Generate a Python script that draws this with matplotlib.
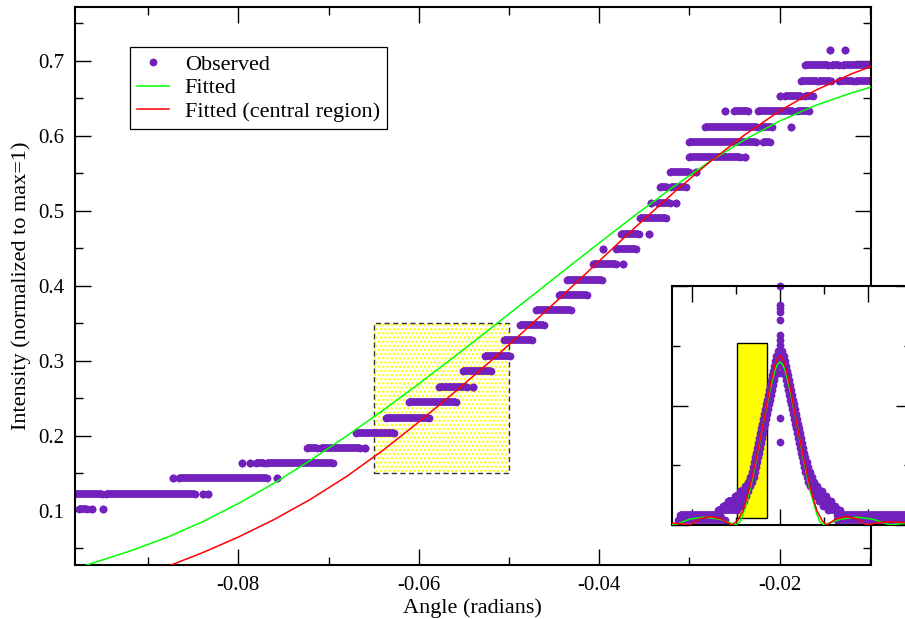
"""Observed vs fitted edge intensity with a full-pattern inset.

Main panel: quantised observed intensities (runs of overlapping points)
on the rising flank, plus the full fit (green) and the central-region
fit (red). Inset: the whole diffraction peak; the yellow bar marks the
part shown in the main panel.
"""
import matplotlib
matplotlib.use("Agg")
import matplotlib.pyplot as plt
from matplotlib.lines import Line2D
from matplotlib.patches import Rectangle
from matplotlib.ticker import MultipleLocator, NullFormatter

PURPLE = "#7221bc"
GREEN = "#00ff00"
RED = "#ff0000"
YELLOW = "#ffff00"

# ---- main panel: observed runs (intensity level, first angle, last angle)
OBS_Y = [
    0.102, 0.102, 0.102,
    0.122, 0.122, 0.122, 0.122,
    0.143, 0.143, 0.143,
    0.163, 0.163, 0.163, 0.163,
    0.184, 0.184, 0.184,
    0.204, 0.224, 0.245,
    0.265, 0.265,
    0.286, 0.306, 0.327, 0.347, 0.367, 0.388, 0.408,
    0.429, 0.429,
    0.449, 0.449,
    0.469, 0.469,
    0.490,
    0.510, 0.510, 0.510,
    0.531, 0.531,
    0.551, 0.551,
    0.571, 0.571,
    0.592, 0.592,
    0.612, 0.612, 0.612,
    0.633, 0.633, 0.633, 0.633,
    0.653, 0.653, 0.653,
    0.673, 0.673, 0.673, 0.673,
    0.694, 0.694, 0.694,
    0.714, 0.714,
]
OBS_X0 = [
    -0.0977, -0.0962, -0.0950,
    -0.0995, -0.0947, -0.0839, -0.0834,
    -0.0872, -0.0866, -0.0757,
    -0.0796, -0.0787, -0.0780, -0.0768,
    -0.0724, -0.0708, -0.0660,
    -0.0670, -0.0636, -0.0611,
    -0.0577, -0.0540,
    -0.0551, -0.0526, -0.0505, -0.0488, -0.0470, -0.0445, -0.0436,
    -0.0407, -0.0374,
    -0.0396, -0.0381,
    -0.0376, -0.0345,
    -0.0355,
    -0.0342, -0.0335, -0.0315,
    -0.0333, -0.0320,
    -0.0321, -0.0293,
    -0.0300, -0.0238,
    -0.0300, -0.0218,
    -0.0283, -0.0220, -0.0187,
    -0.0260, -0.0250, -0.0224, -0.0181,
    -0.0200, -0.0194, -0.0172,
    -0.0176, -0.0156, -0.0134, -0.0115,
    -0.0172, -0.0142, -0.0130,
    -0.0144, -0.0128,
]
OBS_X1 = [
    -0.0968, -0.0962, -0.0950,
    -0.0951, -0.0848, -0.0839, -0.0834,
    -0.0872, -0.0768, -0.0757,
    -0.0796, -0.0787, -0.0772, -0.0695,
    -0.0713, -0.0665, -0.0660,
    -0.0627, -0.0589, -0.0559,
    -0.0546, -0.0540,
    -0.0520, -0.0499, -0.0474, -0.0461, -0.0431, -0.0414, -0.0397,
    -0.0381, -0.0374,
    -0.0396, -0.0359,
    -0.0356, -0.0345,
    -0.0326,
    -0.0342, -0.0322, -0.0315,
    -0.0325, -0.0304,
    -0.0300, -0.0293,
    -0.0244, -0.0238,
    -0.0226, -0.0211,
    -0.0225, -0.0208, -0.0187,
    -0.0260, -0.0235, -0.0185, -0.0167,
    -0.0200, -0.0176, -0.0163,
    -0.0159, -0.0143, -0.0119, -0.0090,
    -0.0146, -0.0134, -0.0090,
    -0.0144, -0.0128,
]

# ---- main panel: fitted curves (angle, intensity)
FIT_X = [-0.0980, -0.0968, -0.0920, -0.0880, -0.0840, -0.0800, -0.0760,
         -0.0720, -0.0680, -0.0640, -0.0600, -0.0560, -0.0520, -0.0480,
         -0.0440, -0.0400, -0.0360, -0.0320, -0.0280, -0.0240, -0.0200,
         -0.0160, -0.0120, -0.0098]
FIT_Y = [0.0233, 0.0276, 0.0462, 0.0640, 0.0850, 0.1095, 0.1370,
         0.1672, 0.1995, 0.2335, 0.2690, 0.3058, 0.3433, 0.3812,
         0.4192, 0.4570, 0.4940, 0.5298, 0.5635, 0.5937, 0.6195,
         0.6405, 0.6572, 0.6650]
CEN_X = [-0.0890, -0.0880, -0.0840, -0.0800, -0.0760, -0.0720, -0.0680,
         -0.0640, -0.0600, -0.0560, -0.0520, -0.0480, -0.0440, -0.0400,
         -0.0360, -0.0320, -0.0280, -0.0240, -0.0200, -0.0160, -0.0120,
         -0.0099]
CEN_Y = [0.0207, 0.0250, 0.0438, 0.0648, 0.0884, 0.1152, 0.1456,
         0.1802, 0.2182, 0.2582, 0.2998, 0.3430, 0.3876, 0.4328,
         0.4778, 0.5214, 0.5624, 0.6000, 0.6330, 0.6606, 0.6826,
         0.6921]

# highlighted region in the main panel
BOX_X = (-0.065, -0.050)
BOX_Y = (0.15, 0.35)

# ---- inset: whole peak, angle in mrad, intensity normalised to max=1
INSET_LEVELS = [0.020, 0.040, 0.061, 0.081, 0.101, 0.121, 0.141, 0.162,
                0.182, 0.202, 0.222, 0.242, 0.263, 0.283, 0.303, 0.323,
                0.343, 0.363, 0.384, 0.404, 0.424, 0.444, 0.464, 0.485,
                0.505, 0.525, 0.545, 0.565, 0.585, 0.606, 0.626, 0.646,
                0.666, 0.686, 0.707, 0.727]
INSET_L0 = [-115.5, -113.6, -70.1, -64.4, -58.7, -51.1, -45.5, -39.8,
            -36.4, -34.1, -32.2, -30.7, -29.5, -28.4, -27.3, -26.1,
            -25.0, -23.9, -22.7, -21.6, -20.5, -19.3, -18.2, -17.0,
            -15.9, -14.8, -13.6, -12.5, -11.4, -10.2, -9.1, -8.0,
            -6.8, -5.7, -4.2, -2.7]
INSET_L1 = [-62.5, -68.2, -49.2, -43.6, -40.9, -38.6, -36.4, -34.1,
            -31.8, -29.9, -28.4, -26.9, -25.8, -24.6, -23.5, -22.3,
            -21.2, -20.1, -18.9, -17.8, -16.7, -15.5, -14.4, -13.3,
            -12.1, -11.0, -9.8, -8.7, -7.6, -6.4, -5.3, -4.2,
            -3.0, -1.5, 0.0, 0.8]
INSET_R0 = [64.4, 64.4, 54.9, 49.2, 43.9, 40.2, 37.1, 34.5,
            32.2, 30.3, 28.8, 27.3, 25.8, 24.6, 23.5, 22.3,
            21.2, 20.1, 18.9, 17.8, 16.7, 15.5, 14.4, 13.3,
            12.1, 11.0, 9.8, 8.7, 7.6, 6.4, 5.3, 4.2,
            3.0, 1.5, 0.0, -0.8]
INSET_R1 = [150.0, 150.0, 68.2, 62.5, 57.6, 52.3, 47.3, 42.4,
            39.0, 36.4, 34.1, 32.2, 30.3, 28.8, 27.3, 26.1,
            25.0, 23.9, 22.7, 21.6, 20.5, 19.3, 18.2, 17.0,
            15.9, 14.8, 13.6, 12.5, 11.4, 10.2, 9.1, 8.0,
            6.8, 5.7, 4.5, 2.7]
SPIKE_X = [0, 0, 0, 0, 0, 0, 0, 0, 0, 0, 0]
SPIKE_Y = [1.000, 0.920, 0.906, 0.893, 0.858, 0.795, 0.774, 0.753,
           0.634, 0.449, 0.346]

INSET_FIT_X = [-122.7, -119.3, -103.0, -87.1, -68.0, -50.0, -45.0, -41.7,
               -34.1, -26.5, -18.9, -11.4, -5.7, -2.8, 0.0, 2.8, 5.7,
               11.4, 18.9, 26.5, 34.1, 41.7, 45.0, 50.0, 68.5, 87.1,
               106.0, 125.0, 137.0, 150.0]
INSET_FIT_Y = [0.002, 0.000, 0.024, 0.033, 0.024, 0.000, 0.016, 0.048,
               0.146, 0.279, 0.426, 0.565, 0.648, 0.673, 0.682, 0.673,
               0.648, 0.565, 0.426, 0.279, 0.146, 0.048, 0.016, 0.000,
               0.024, 0.033, 0.024, 0.000, 0.005, 0.008]
INSET_CEN_X = [-122.7, -112.0, -102.3, -91.0, -79.5, -67.0, -54.9, -48.0,
               -41.7, -34.1, -26.5, -18.9, -11.4, -5.7, -2.8, 0.0, 2.8,
               5.7, 11.4, 18.9, 26.5, 34.1, 41.7, 48.0, 53.0, 64.0, 75.8,
               87.0, 98.5, 112.0, 125.0, 140.0, 150.0]
INSET_CEN_Y = [0.008, 0.005, 0.000, 0.026, 0.035, 0.026, 0.000, 0.018,
               0.062, 0.160, 0.286, 0.426, 0.579, 0.670, 0.698, 0.708,
               0.698, 0.670, 0.579, 0.426, 0.286, 0.160, 0.062, 0.018,
               0.000, 0.026, 0.035, 0.026, 0.000, 0.010, 0.013, 0.010,
               0.006]
INSET_BOX_X = (-48.9, -14.8)
INSET_BOX_Y = (0.029, 0.762)

MARK = 5.6  # observed point diameter, pt


def draw_runs(ax, ys, x0s, x1s):
    # overlapping points on one level drawn as a run with round ends
    for y, a, b in zip(ys, x0s, x1s):
        ax.plot([a, b], [y, y], color=PURPLE, lw=MARK,
                solid_capstyle="butt", marker="o", ms=MARK,
                mec=PURPLE, mew=0, zorder=2)


def style_ticks(ax):
    ax.tick_params(which="both", direction="in", top=True, right=True,
                   width=1.0, colors="black")
    ax.tick_params(which="major", length=11.5)
    ax.tick_params(which="minor", length=5.8)
    for s in ax.spines.values():
        s.set_linewidth(1.5)


def main():
    plt.rcParams["font.family"] = ["Liberation Serif", "DejaVu Serif"]
    plt.rcParams["axes.unicode_minus"] = False
    plt.rcParams["hatch.linewidth"] = 1.1

    fig = plt.figure(figsize=(9.05, 6.19), dpi=100)
    ax = fig.add_axes([75 / 905, 54 / 619, 795.7 / 905, 557.7 / 619])

    # highlighted region
    ax.add_patch(Rectangle((BOX_X[0], BOX_Y[0]), BOX_X[1] - BOX_X[0],
                           BOX_Y[1] - BOX_Y[0], facecolor="white",
                           edgecolor=YELLOW, hatch="....", lw=0, zorder=1))
    ax.add_patch(Rectangle((BOX_X[0], BOX_Y[0]), BOX_X[1] - BOX_X[0],
                           BOX_Y[1] - BOX_Y[0], fill=False,
                           edgecolor="#333333", lw=1.0,
                           ls=(0, (3.8, 2.4)), zorder=1.5))

    draw_runs(ax, OBS_Y, OBS_X0, OBS_X1)
    ax.plot(FIT_X, FIT_Y, color=GREEN, lw=1.1, zorder=3)
    ax.plot(CEN_X, CEN_Y, color=RED, lw=1.1, zorder=3)

    ax.set_xlim(-0.0981, -0.0099)
    ax.set_ylim(0.0276, 0.7712)
    ax.set_xticks([-0.08, -0.06, -0.04, -0.02])
    ax.set_yticks([0.1, 0.2, 0.3, 0.4, 0.5, 0.6, 0.7])
    ax.xaxis.set_minor_locator(MultipleLocator(0.01))
    ax.yaxis.set_minor_locator(MultipleLocator(0.05))
    style_ticks(ax)
    ax.tick_params(which="major", labelsize=15, pad=8)
    ax.set_xlabel("Angle (radians)", fontsize=16, labelpad=2)
    ax.set_ylabel("Intensity (normalized to max=1)", fontsize=16,
                  labelpad=5)

    handles = [
        Line2D([], [], ls="none", marker="o", ms=MARK, color=PURPLE,
               mew=0),
        Line2D([], [], color=GREEN, lw=1.1),
        Line2D([], [], color=RED, lw=1.1),
    ]
    leg = ax.legend(handles, ["Observed", "Fitted", "Fitted (central region)"],
                    loc="upper left", bbox_to_anchor=(0.0695, 0.928),
                    borderaxespad=0, fontsize=16, frameon=True,
                    fancybox=False, framealpha=1, edgecolor="black",
                    handlelength=1.45, handletextpad=0.7, borderpad=0.3,
                    labelspacing=0.14)
    leg.get_frame().set_linewidth(0.9)

    # ---- inset with the full peak
    ins = fig.add_axes([672 / 905, 94 / 619, 240 / 905, 239 / 619])
    ins.set_facecolor("white")
    ins.add_patch(Rectangle((INSET_BOX_X[0], INSET_BOX_Y[0]),
                            INSET_BOX_X[1] - INSET_BOX_X[0],
                            INSET_BOX_Y[1] - INSET_BOX_Y[0],
                            facecolor=YELLOW, edgecolor="black", lw=1.0,
                            zorder=1))
    draw_runs(ins, INSET_LEVELS, INSET_L0, INSET_L1)
    draw_runs(ins, INSET_LEVELS, INSET_R0, INSET_R1)
    ins.plot(SPIKE_X, SPIKE_Y, ls="none", marker="o", ms=MARK,
             color=PURPLE, mew=0, zorder=2, clip_on=False)
    ins.plot(INSET_FIT_X, INSET_FIT_Y, color=GREEN, lw=1.1, zorder=3)
    ins.plot(INSET_CEN_X, INSET_CEN_Y, color=RED, lw=1.1, zorder=3)
    ins.set_xlim(-122.7, 150.0)
    ins.set_ylim(0, 1.0)
    ins.xaxis.set_major_locator(MultipleLocator(100))
    ins.xaxis.set_minor_locator(MultipleLocator(50))
    ins.yaxis.set_major_locator(MultipleLocator(0.5))
    ins.yaxis.set_minor_locator(MultipleLocator(0.25))
    ins.xaxis.set_major_formatter(NullFormatter())
    ins.yaxis.set_major_formatter(NullFormatter())
    style_ticks(ins)

    fig.savefig("out.png", dpi=100)
    plt.close(fig)


if __name__ == "__main__":
    main()
